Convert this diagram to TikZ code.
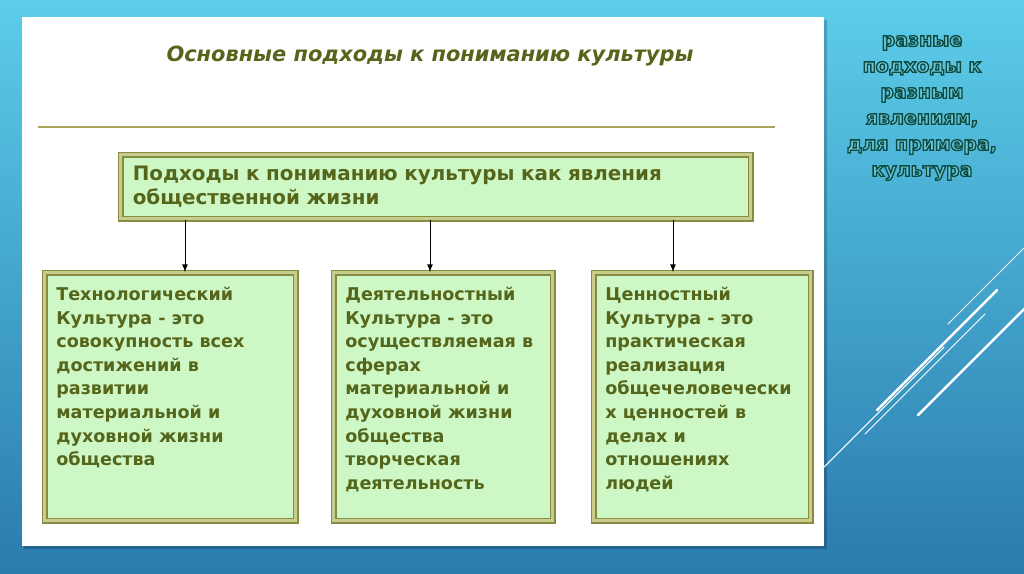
\documentclass[tikz,border=0pt]{standalone}
\usepackage{fontspec}
\setmainfont{DejaVu Sans}
\usetikzlibrary{positioning,arrows}
\definecolor{bgtop}{HTML}{5CCDE9}
\definecolor{bgbot}{HTML}{2A7BAE}
\definecolor{olivetext}{HTML}{55651A}
\definecolor{boxfill}{HTML}{CEF7C6}
\definecolor{boxline}{HTML}{868C42}
\definecolor{boxgap}{HTML}{C8CC8C}
\definecolor{rulecol}{HTML}{A9A35E}
\definecolor{tealtext}{HTML}{0C4C40}
\tikzset{
  box/.style={draw=boxline,line width=0.9pt,double=boxgap,double distance=1.6pt,fill=boxfill,anchor=north west},
  boxtext/.style={anchor=north west,align=left,inner sep=0pt,text=olivetext,font=\bfseries\fontsize{10}{13.4}\selectfont}
}
\begin{document}
\begin{tikzpicture}[x=0.02cm,y=-0.02cm]
  \useasboundingbox (0,0) rectangle (1024,574);
  \shade[top color=bgtop,bottom color=bgbot] (0,0) rectangle (1024,574);
  \fill[black,opacity=0.2] (24,20) rectangle (827,549);
  \fill[white] (22,17) rectangle (824,546);
  \foreach \a/\b/\w in {948/324/0.5pt,877/410/1.4pt,824/467/0.6pt,865/434/0.5pt,918/415/1.4pt}
  {
    \draw[white,line width=\w,line cap=round] (\a,\b) -- ++(120,-120);
  }
  \fill[bgtop!80!bgbot] (1024,0) rectangle (1040,574);
  \node[text=olivetext,font=\bfseries\itshape\fontsize{11.9}{15}\selectfont] (title) at (430,56) {Основные подходы к пониманию культуры};
  \draw[rulecol,line width=1pt] (38,127) -- (775,127);
  \node[box,minimum width=12.6cm,minimum height=1.28cm,text width=12.12cm,inner xsep=0.24cm,align=left,text=olivetext,
        font=\bfseries\fontsize{11.3}{14}\selectfont] (top) at (120,154) {Подходы к пониманию культуры как явления\\общественной жизни};
  \foreach \n/\x/\w/\t in {1/44/251/{Технологический\\Культура - это\\совокупность всех\\достижений в\\развитии\\материальной и\\духовной жизни\\общества},
                           2/333/219/{Деятельностный\\Культура - это\\осуществляемая в\\сферах\\материальной и\\духовной жизни\\общества\\творческая\\деятельность},
                           3/593/217/{Ценностный\\Культура - это\\практическая\\реализация\\общечеловечески\\х ценностей в\\делах и\\отношениях\\людей}}
  {
    \node[box,minimum width=\w*0.02cm,minimum height=4.96cm] (box\n) at (\x,272) {};
    \node[boxtext] (txt\n) at ([xshift=0.24cm,yshift=-0.3cm]box\n.north west) {\t};
  }
  \foreach \n/\x in {1/185,2/430,3/673}
  {
    \draw[-latex,line width=0.5pt] (top.south -| \x,0) -- (box\n.north -| \x,0);
  }
  \node[align=center,text=tealtext,font=\bfseries\fontsize{10.8}{14.8}\selectfont] (note) at (922,108)
    {\special{pdf:literal direct 0.42 0.76 0.84 rg 2 Tr 0.75 w}разные\\подходы к\\разным\\явлениям,\\для примера,\\культура\special{pdf:literal direct 0 Tr}};
\end{tikzpicture}
\end{document}
